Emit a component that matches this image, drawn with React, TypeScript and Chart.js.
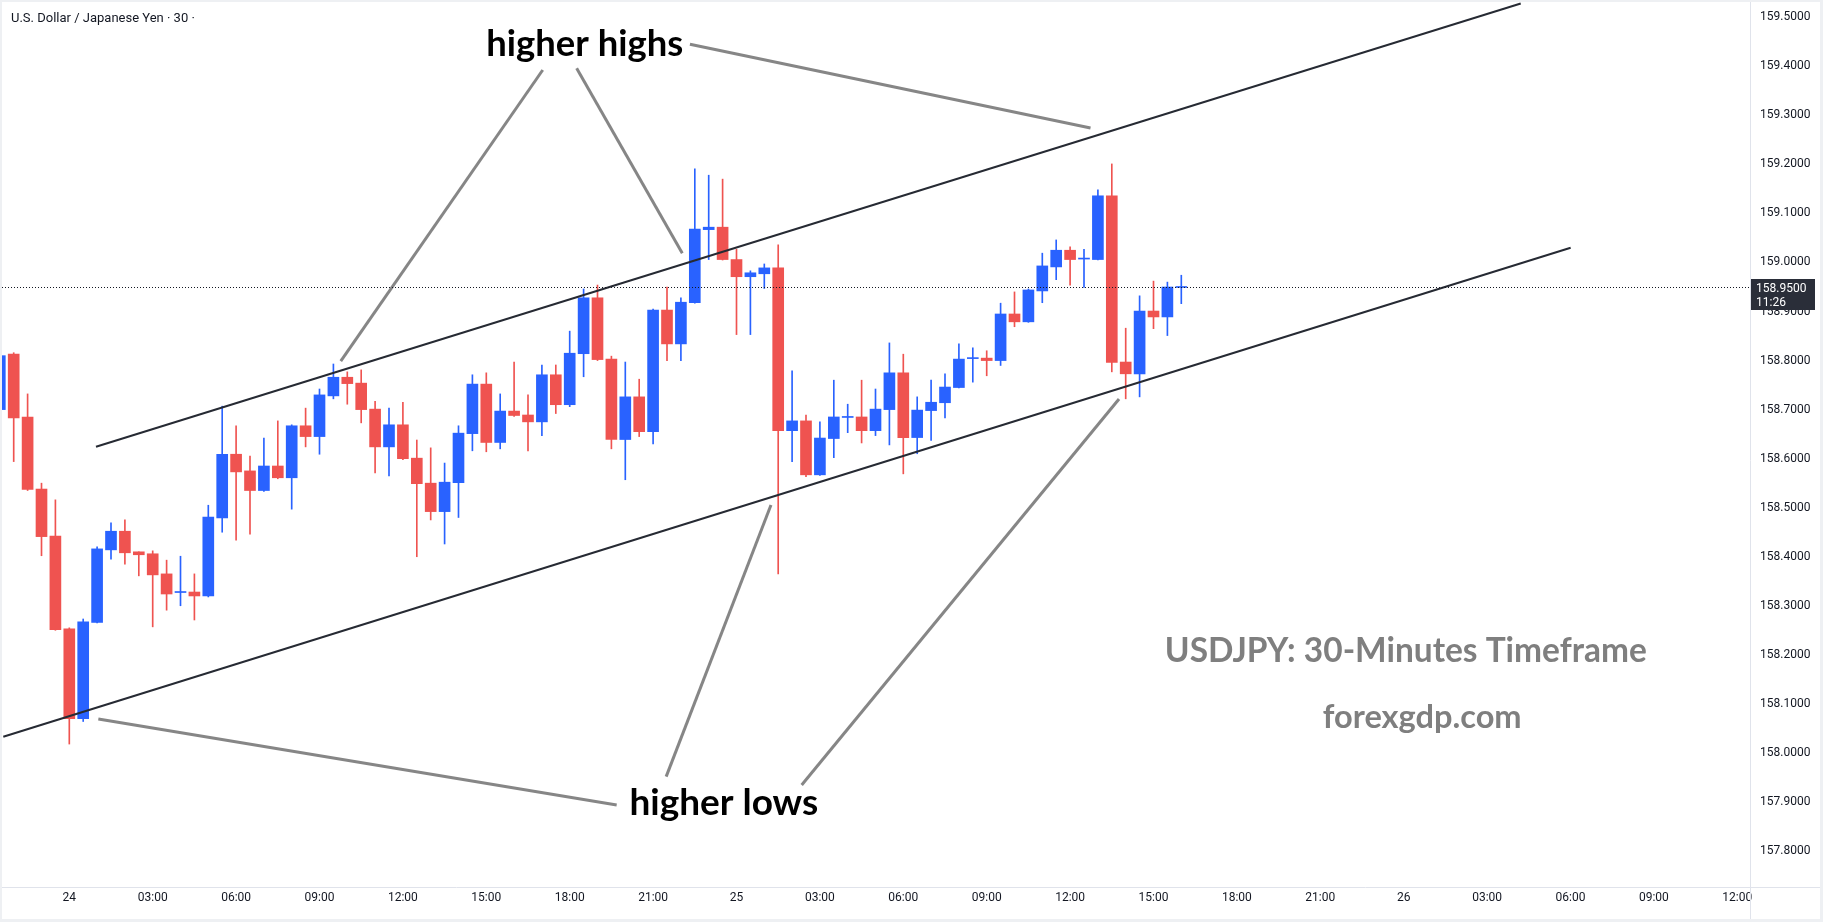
import { useEffect, useRef } from "react";
import { Chart, registerables } from "chart.js";

Chart.register(...registerables);

// ---- data (half-hour slots; slot 0 = 24th 00:00) ----
const firstSlot = -5;
const opens = [
  158.700, 158.813, 158.685, 158.538, 158.442, 158.253, 158.070, 158.266, 158.414, 158.452,
  158.410, 158.406, 158.365, 158.327, 158.328, 158.320, 158.479, 158.609, 158.575, 158.535,
  158.585, 158.561, 158.667, 158.645, 158.728, 158.766, 158.754, 158.701, 158.624, 158.669,
  158.601, 158.550, 158.492, 158.551, 158.651, 158.752, 158.633, 158.697, 158.689, 158.675,
  158.771, 158.710, 158.814, 158.928, 158.803, 158.639, 158.726, 158.655, 158.903, 158.834,
  158.918, 159.067, 159.072, 159.006, 158.971, 158.977, 158.989, 158.657, 158.677, 158.567,
  158.641, 158.684, 158.685, 158.657, 158.700, 158.775, 158.643, 158.698, 158.714, 158.745,
  158.804, 158.805, 158.800, 158.895, 158.879, 158.942, 158.991, 159.025, 159.007, 159.006,
  159.136, 158.797, 158.773, 158.901, 158.889, 158.949,
];
const highs = [
  158.820, 158.816, 158.732, 158.550, 158.516, 158.255, 158.273, 158.420, 158.469, 158.475,
  158.410, 158.412, 158.393, 158.401, 158.365, 158.505, 158.707, 158.667, 158.605, 158.642,
  158.677, 158.669, 158.703, 158.742, 158.793, 158.777, 158.781, 158.717, 158.703, 158.715,
  158.638, 158.622, 158.591, 158.667, 158.771, 158.775, 158.732, 158.797, 158.730, 158.791,
  158.791, 158.860, 158.946, 158.954, 158.809, 158.797, 158.762, 158.905, 158.950, 158.928,
  159.191, 159.178, 159.170, 159.027, 158.983, 158.997, 159.036, 158.779, 158.689, 158.675,
  158.760, 158.711, 158.760, 158.742, 158.836, 158.813, 158.726, 158.760, 158.773, 158.834,
  158.826, 158.820, 158.917, 158.940, 158.946, 159.019, 159.046, 159.032, 159.027, 159.148,
  159.201, 158.866, 158.932, 158.962, 158.960, 158.974,
];
const lows = [
  158.690, 158.594, 158.535, 158.402, 158.250, 158.018, 158.064, 158.265, 158.395, 158.385,
  158.361, 158.257, 158.291, 158.300, 158.271, 158.318, 158.450, 158.434, 158.446, 158.533,
  158.559, 158.497, 158.624, 158.609, 158.722, 158.711, 158.673, 158.571, 158.565, 158.598,
  158.400, 158.475, 158.426, 158.480, 158.616, 158.614, 158.620, 158.686, 158.616, 158.647,
  158.692, 158.706, 158.767, 158.800, 158.620, 158.557, 158.645, 158.630, 158.800, 158.800,
  158.917, 159.006, 159.005, 158.853, 158.853, 158.947, 158.365, 158.594, 158.563, 158.566,
  158.602, 158.653, 158.632, 158.647, 158.628, 158.569, 158.610, 158.637, 158.683, 158.744,
  158.756, 158.769, 158.790, 158.869, 158.878, 158.918, 158.965, 158.954, 158.949, 159.005,
  158.777, 158.722, 158.726, 158.865, 158.851, 158.916,
];
const closes = [
  158.810, 158.683, 158.537, 158.441, 158.251, 158.070, 158.267, 158.416, 158.452, 158.408,
  158.404, 158.363, 158.324, 158.328, 158.320, 158.481, 158.609, 158.573, 158.535, 158.585,
  158.561, 158.667, 158.645, 158.730, 158.766, 158.753, 158.700, 158.624, 158.669, 158.600,
  158.549, 158.492, 158.552, 158.652, 158.752, 158.633, 158.697, 158.688, 158.675, 158.771,
  158.710, 158.815, 158.928, 158.802, 158.639, 158.726, 158.655, 158.903, 158.834, 158.919,
  159.068, 159.072, 159.006, 158.971, 158.979, 158.989, 158.657, 158.677, 158.567, 158.642,
  158.685, 158.686, 158.657, 158.701, 158.775, 158.643, 158.699, 158.715, 158.746, 158.803,
  158.805, 158.800, 158.895, 158.879, 158.944, 158.993, 159.025, 159.006, 159.008, 159.136,
  158.796, 158.773, 158.901, 158.889, 158.950, 158.950,
];

const xTickSlots = [0, 6, 12, 18, 24, 30, 36, 42, 48, 54, 60, 66, 72, 78, 84, 90, 96, 102, 108, 114, 120];
const xTickLabels = [
  "24", "03:00", "06:00", "09:00", "12:00", "15:00", "18:00", "21:00",
  "25", "03:00", "06:00", "09:00", "12:00", "15:00", "18:00", "21:00",
  "26", "03:00", "06:00", "09:00", "12:00",
];
const yTickValues = [
  157.8, 157.9, 158.0, 158.1, 158.2, 158.3, 158.4, 158.5, 158.6,
  158.7, 158.8, 158.9, 159.0, 159.1, 159.2, 159.3, 159.4, 159.5,
];
const lastPrice = 158.95;
const countdown = "11:26";
const chartTitle = "U.S. Dollar / Japanese Yen · 30 ·";

// drawn trend lines, as [slot, price] endpoints
const channelUpper = [[1.92, 158.6243], [104.42, 159.528]];
const channelLower = [[-4.75, 158.033], [108.01, 159.03]];
const pointerLines = [
  [[34.06, 159.3925], [19.53, 158.799]],
  [[36.5, 159.396], [44.1, 159.0187]],
  [[44.65, 159.445], [73.47, 159.2744]],
  [[39.38, 157.8937], [2.09, 158.069]],
  [[42.94, 157.9516], [50.48, 158.5055]],
  [[52.69, 157.9345], [75.52, 158.7216]],
];
const noteTexts = ["higher highs", "higher lows"];
const noteSlots = [37.08, 47.09];
const notePrices = [159.421, 157.8733];
const watermarkTexts = ["USDJPY: 30-Minutes Timeframe", "forexgdp.com"];
const watermarkSlots = [96.15, 97.33];
const watermarkPrices = [158.186, 158.05];

const UP = "#2962ff";
const DOWN = "#ef5350";

function fitText(ctx: CanvasRenderingContext2D, text: string, family: string, targetW: number) {
  ctx.font = `bold 100px ${family}`;
  const w = ctx.measureText(text).width;
  const size = (100 * targetW) / w;
  ctx.font = `bold ${size}px ${family}`;
}

function noEdgePadding(scale: any) {
  scale.paddingTop = 0;
  scale.paddingBottom = 0;
  scale.paddingLeft = 0;
  scale.paddingRight = 0;
}

export default function App() {
  const ref = useRef<HTMLCanvasElement | null>(null);

  useEffect(() => {
    const canvas = ref.current;
    if (!canvas) return;

    const slots = opens.map((_, k) => firstSlot + k);
    const colors = opens.map((o, k) => (closes[k] >= o ? UP : DOWN));

    const lineDs = (pts: number[][], color: string, width: number) => ({
      type: "line" as const,
      data: pts.map(([x, y]) => ({ x, y })),
      borderColor: color,
      borderWidth: width,
      pointRadius: 0,
      fill: false,
      tension: 0,
      order: 0,
    });

    const overlay = {
      id: "overlay",
      beforeDraw(chart: any) {
        const ctx = chart.ctx as CanvasRenderingContext2D;
        ctx.save();
        ctx.fillStyle = "#eef0f3";
        ctx.fillRect(0, 0, chart.width, chart.height);
        ctx.fillStyle = "#ffffff";
        ctx.fillRect(2, 2, chart.width - 5, chart.height - 5);
        ctx.restore();
      },
      afterDatasetsDraw(chart: any) {
        const ctx = chart.ctx as CanvasRenderingContext2D;
        const xs = chart.scales.x;
        const ys = chart.scales.y;
        const area = chart.chartArea;
        ctx.save();
        const py = Math.round(ys.getPixelForValue(lastPrice)) + 0.5;
        ctx.strokeStyle = "#131722";
        ctx.lineWidth = 1;
        ctx.setLineDash([1, 2]);
        ctx.beginPath();
        ctx.moveTo(area.left, py);
        ctx.lineTo(area.right, py);
        ctx.stroke();
        ctx.setLineDash([]);

        ctx.textAlign = "center";
        ctx.textBaseline = "alphabetic";
        const noteWidths = [197, 189];
        noteTexts.forEach((t, i) => {
          fitText(ctx, t, "Lato", noteWidths[i]);
          ctx.fillStyle = "#000000";
          ctx.fillText(t, xs.getPixelForValue(noteSlots[i]), ys.getPixelForValue(notePrices[i]));
        });
        const wmWidths = [482, 199];
        watermarkTexts.forEach((t, i) => {
          fitText(ctx, t, "Lato", wmWidths[i]);
          ctx.fillStyle = "#7f7f7f";
          ctx.fillText(t, xs.getPixelForValue(watermarkSlots[i]), ys.getPixelForValue(watermarkPrices[i]));
        });
        ctx.restore();
      },
      afterDraw(chart: any) {
        const ctx = chart.ctx as CanvasRenderingContext2D;
        const ys = chart.scales.y;
        const area = chart.chartArea;
        ctx.save();
        ctx.strokeStyle = "#e0e3eb";
        ctx.lineWidth = 1;
        ctx.beginPath();
        ctx.moveTo(area.right + 0.5, 2);
        ctx.lineTo(area.right + 0.5, chart.height - 3);
        ctx.moveTo(2, area.bottom + 0.5);
        ctx.lineTo(chart.width - 3, area.bottom + 0.5);
        ctx.stroke();

        ctx.fillStyle = "#131722";
        ctx.font = "13px Roboto";
        ctx.textAlign = "left";
        ctx.textBaseline = "alphabetic";
        ctx.fillText(chartTitle, 11, 21.5);

        const py = Math.round(ys.getPixelForValue(lastPrice));
        ctx.fillStyle = "#2a2e39";
        ctx.fillRect(area.right + 1, py - 8, 64, 31);
        ctx.fillStyle = "#ffffff";
        ctx.font = "12px Roboto";
        ctx.fillText(lastPrice.toFixed(4), area.right + 6, py + 5);
        ctx.fillText(countdown, area.right + 6, py + 19);
        ctx.restore();
      },
    };

    const chart = new Chart(canvas, {
      type: "bar",
      data: {
        datasets: [
          {
            type: "bar",
            data: slots.map((s, k) => ({ x: s, y: [lows[k], highs[k]] })) as any,
            backgroundColor: colors,
            borderWidth: 0,
            barThickness: 1,
            grouped: false,
            order: 3,
          } as any,
          {
            type: "bar",
            data: slots.map((s, k) => ({ x: s, y: [opens[k], closes[k]] })) as any,
            backgroundColor: colors,
            borderWidth: 0,
            barThickness: 11,
            minBarLength: 1,
            grouped: false,
            order: 2,
          } as any,
          lineDs(channelUpper, "#262a33", 2),
          lineDs(channelLower, "#262a33", 2),
          ...pointerLines.map((p) => lineDs(p, "#868686", 3)),
        ],
      },
      options: {
        animation: false,
        responsive: true,
        maintainAspectRatio: false,
        events: [],
        layout: { padding: { left: 2, top: 2, right: 3, bottom: 3 } },
        plugins: { legend: { display: false }, tooltip: { enabled: false }, title: { display: false } },
        scales: {
          x: {
            type: "linear",
            position: "bottom",
            min: -4.8417,
            max: 120.9137,
            offset: false,
            grid: { display: false, drawTicks: false },
            border: { display: false },
            afterBuildTicks: (scale: any) => {
              scale.ticks = xTickSlots.map((v) => ({ value: v }));
            },
            afterFit: (scale: any) => {
              scale.height = 32;
              noEdgePadding(scale);
            },
            ticks: {
              autoSkip: false,
              maxRotation: 0,
              padding: 4,
              color: "#131722",
              font: { family: "Roboto", size: 12 },
              callback: (v: any) => xTickLabels[xTickSlots.indexOf(Number(v))] ?? "",
            },
          },
          y: {
            type: "linear",
            position: "right",
            min: 157.7265,
            max: 159.5312,
            grid: { display: false, drawTicks: false },
            border: { display: false },
            afterBuildTicks: (scale: any) => {
              scale.ticks = yTickValues.map((v) => ({ value: v }));
            },
            afterFit: (scale: any) => {
              scale.width = 70;
              noEdgePadding(scale);
            },
            ticks: {
              padding: 10,
              color: "#131722",
              font: { family: "Roboto", size: 12 },
              callback: (v: any) => Number(v).toFixed(4),
            },
          },
        },
      } as any,
      plugins: [overlay],
    });

    return () => chart.destroy();
  }, []);

  return (
    <div style={{ position: "fixed", left: 0, top: 0, width: 1823, height: 922, background: "#ffffff" }}>
      <canvas ref={ref} />
    </div>
  );
}
